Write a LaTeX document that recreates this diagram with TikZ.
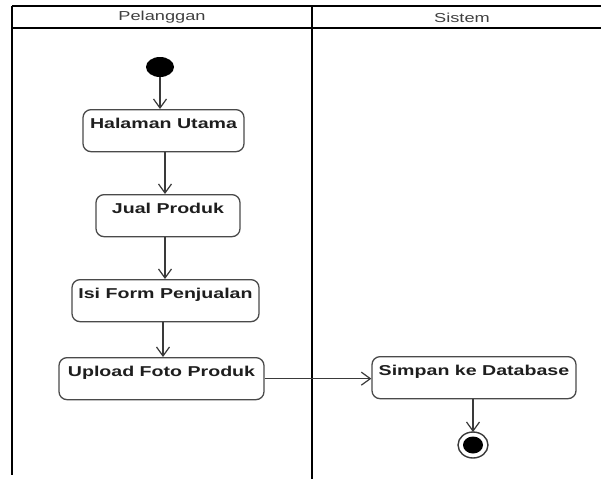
\documentclass[tikz,border=0pt]{standalone}
\usepackage{fontspec}
\setmainfont{Liberation Sans}
\usetikzlibrary{arrows.meta}
\definecolor{ink}{HTML}{1E1E1E}
\definecolor{boxline}{HTML}{4A4A4A}
\definecolor{flowline}{HTML}{3A3A3A}
\newcommand{\wide}[2]{\scalebox{#1}[1]{#2}}
\begin{document}
\begin{tikzpicture}[x=1pt, y=-1pt,
  lane/.style={line width=2pt, black},
  lanetitle/.style={font=\fontsize{13}{15}\selectfont, text=ink!85, inner sep=0pt},
  act/.style={draw=boxline, line width=1.3pt, rounded corners=8pt, inner sep=0pt,
    text height=19pt, text depth=23pt, anchor=north, text=ink,
    font=\fontsize{14.3}{16}\selectfont\bfseries},
  flow/.style={draw=flowline, line width=1.2pt,
    -{Straight Barb[length=9pt, width=13pt, line width=1.2pt]}}]
\useasboundingbox (0,0) rectangle (601,479);
\fill[white] (0,0) rectangle (601,479);

% swimlane frame
\draw[lane] (12,6) -- (601,6);
\draw[lane] (12,28) -- (601,28);
\draw[line width=1.3pt] (12,6) -- (12,475);
\draw[line width=2.3pt] (312,6) -- (312,479);
\node[lanetitle] (hpel) at (162,17.5) {\wide{1.4}{Pelanggan}};
\node[lanetitle] (hsis) at (462,17.5) {\wide{1.4}{Sistem}};

% initial node
\fill[black] (160,67) ellipse [x radius=14, y radius=10];
\coordinate (start) at (160,77);

% actions
\node[act, minimum width=161pt] (hal) at (163.5,109) {\wide{1.37}{Halaman Utama}};
\node[act, minimum width=144pt] (jual) at (168,194) {\wide{1.37}{Jual Produk}};
\node[act, minimum width=187pt] (isi) at (165.5,279) {\wide{1.37}{Isi Form Penjualan}};
\node[act, minimum width=205pt] (upl) at (161.5,357) {\wide{1.37}{Upload Foto Produk}};
\node[act, minimum width=204pt] (simp) at (474,356) {\wide{1.37}{Simpan ke Database}};

% final node
\draw[flowline, line width=1.4pt, fill=white] (473,445) ellipse [x radius=15, y radius=13];
\fill[black] (473,445) ellipse [x radius=10, y radius=8.5];
\coordinate (fin) at (473,432);

% control flow
\draw[flow] (start) -- ([xshift=-3.5pt]hal.north);
\draw[flow] ([xshift=1.5pt]hal.south) -- ([xshift=-3pt]jual.north);
\draw[flow] ([xshift=-3pt]jual.south) -- ([xshift=-0.5pt]isi.north);
\draw[flow] ([xshift=-2.5pt]isi.south) -- ([xshift=1.5pt]upl.north);
\draw[flow] (upl.east) -- (upl.east -| simp.west);
\draw[flow] ([xshift=-1pt]simp.south) -- (fin);
\end{tikzpicture}
\end{document}
